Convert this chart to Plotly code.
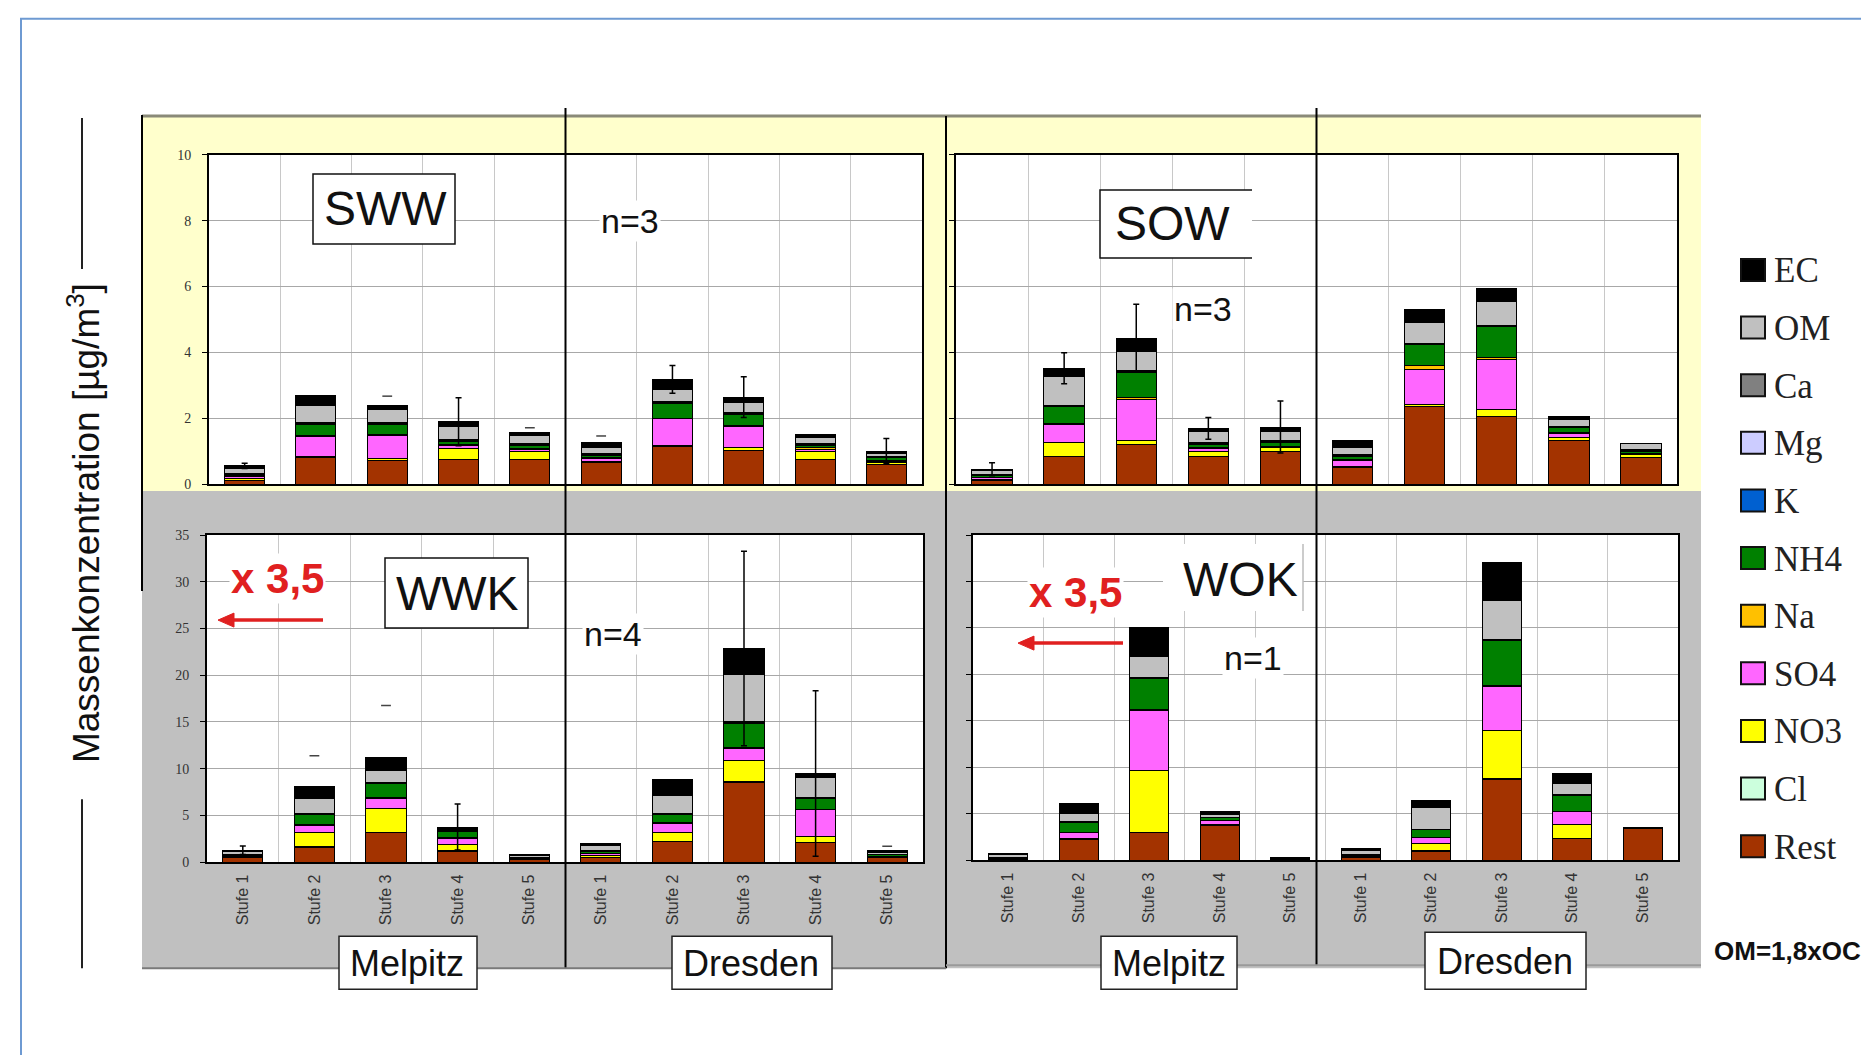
import plotly.graph_objects as go

W, H = 1861, 1055

# ---------------- data ----------------
components = ["Rest", "Cl", "NO3", "SO4", "Na", "NH4", "K", "Mg", "Ca", "OM", "EC"]
comp_colors = ["#a33300", "#ccffdd", "#ffff00", "#ff66ff", "#ffc000", "#008000",
               "#0060d0", "#ccccff", "#808080", "#c0c0c0", "#000000"]
stufen = ["Stufe 1", "Stufe 2", "Stufe 3", "Stufe 4", "Stufe 5"]
sites = ["Melpitz", "Dresden"]
panels = ["SWW", "SOW", "WWK", "WOK"]
n_labels = ["n=3", "n=3", "n=4", "n=1"]

# values: Melpitz Stufe 1-5, Dresden Stufe 1-5  [µg/m³]
SWW_Rest = [0.10, 0.82, 0.73, 0.75, 0.75, 0.65, 1.15, 1.02, 0.75, 0.60]
SWW_Cl = [0.02, 0.00, 0.00, 0.00, 0.00, 0.00, 0.00, 0.00, 0.00, 0.00]
SWW_NO3 = [0.05, 0.02, 0.05, 0.34, 0.25, 0.03, 0.02, 0.08, 0.25, 0.05]
SWW_SO4 = [0.05, 0.60, 0.69, 0.08, 0.05, 0.10, 0.81, 0.66, 0.05, 0.02]
SWW_Na = [0.02, 0.02, 0.02, 0.04, 0.03, 0.02, 0.02, 0.02, 0.05, 0.03]
SWW_NH4 = [0.03, 0.36, 0.33, 0.08, 0.10, 0.08, 0.45, 0.34, 0.07, 0.10]
SWW_K = [0.01, 0.02, 0.02, 0.02, 0.02, 0.02, 0.02, 0.02, 0.02, 0.02]
SWW_Mg = [0.01, 0.01, 0.01, 0.01, 0.01, 0.01, 0.01, 0.01, 0.01, 0.01]
SWW_Ca = [0.02, 0.02, 0.02, 0.02, 0.02, 0.02, 0.02, 0.02, 0.02, 0.02]
SWW_OM = [0.16, 0.52, 0.40, 0.42, 0.23, 0.17, 0.38, 0.30, 0.19, 0.07]
SWW_EC = [0.08, 0.31, 0.12, 0.13, 0.10, 0.16, 0.30, 0.17, 0.08, 0.08]
SWW_err = [0.08, None, None, 0.73, None, None, 0.42, 0.62, None, 0.38]
SWW_cap = [None, None, 0.28, None, 0.15, 0.20, None, None, None, None]

SOW_Rest = [0.10, 0.85, 1.21, 0.85, 0.98, 0.50, 2.37, 2.05, 1.31, 0.80]
SOW_Cl = [0.00, 0.00, 0.00, 0.00, 0.00, 0.00, 0.00, 0.00, 0.00, 0.00]
SOW_NO3 = [0.05, 0.41, 0.10, 0.13, 0.12, 0.02, 0.05, 0.22, 0.10, 0.10]
SOW_SO4 = [0.05, 0.55, 1.26, 0.10, 0.02, 0.20, 1.07, 1.50, 0.13, 0.02]
SOW_Na = [0.01, 0.02, 0.05, 0.02, 0.02, 0.02, 0.10, 0.07, 0.02, 0.02]
SOW_NH4 = [0.05, 0.52, 0.77, 0.10, 0.13, 0.10, 0.64, 0.94, 0.15, 0.06]
SOW_K = [0.01, 0.02, 0.02, 0.02, 0.02, 0.02, 0.02, 0.02, 0.02, 0.02]
SOW_Mg = [0.01, 0.01, 0.01, 0.01, 0.01, 0.01, 0.01, 0.01, 0.01, 0.01]
SOW_Ca = [0.02, 0.02, 0.02, 0.02, 0.02, 0.02, 0.02, 0.02, 0.02, 0.02]
SOW_OM = [0.11, 0.88, 0.58, 0.34, 0.27, 0.21, 0.62, 0.71, 0.21, 0.18]
SOW_EC = [0.04, 0.24, 0.41, 0.10, 0.14, 0.23, 0.39, 0.40, 0.08, 0.00]
SOW_err = [0.20, 0.47, 1.03, 0.33, 0.79, None, None, None, None, None]
SOW_cap = [None, None, None, None, None, None, None, None, None, None]

WWK_Rest = [0.45, 1.60, 3.14, 1.18, 0.30, 0.50, 2.18, 8.49, 2.07, 0.50]
WWK_Cl = [0.02, 0.05, 0.05, 0.03, 0.01, 0.03, 0.05, 0.10, 0.05, 0.02]
WWK_NO3 = [0.10, 1.50, 2.55, 0.68, 0.02, 0.20, 0.92, 2.25, 0.68, 0.03]
WWK_SO4 = [0.10, 0.80, 1.08, 0.66, 0.02, 0.20, 1.00, 1.37, 2.80, 0.03]
WWK_Na = [0.02, 0.09, 0.06, 0.05, 0.01, 0.03, 0.07, 0.05, 0.06, 0.02]
WWK_NH4 = [0.08, 1.02, 1.55, 0.66, 0.10, 0.20, 0.84, 2.60, 1.19, 0.18]
WWK_K = [0.02, 0.05, 0.05, 0.04, 0.01, 0.02, 0.05, 0.07, 0.05, 0.02]
WWK_Mg = [0.01, 0.02, 0.02, 0.01, 0.01, 0.01, 0.02, 0.03, 0.02, 0.01]
WWK_Ca = [0.02, 0.04, 0.04, 0.03, 0.02, 0.03, 0.04, 0.06, 0.04, 0.02]
WWK_OM = [0.35, 1.59, 1.25, 0.21, 0.20, 0.56, 2.00, 5.07, 2.10, 0.24]
WWK_EC = [0.10, 1.32, 1.42, 0.21, 0.15, 0.22, 1.68, 2.78, 0.43, 0.13]
WWK_err = [0.46, None, None, 2.46, None, None, None, 10.4, 8.85, None]
WWK_cap = [None, 3.3, 5.54, None, None, None, None, None, None, 0.5]

WOK_Rest = [0.10, 2.23, 2.94, 3.77, 0.10, 0.30, 0.97, 8.69, 2.30, 3.45]
WOK_Cl = [0.01, 0.02, 0.05, 0.02, 0.00, 0.01, 0.02, 0.05, 0.03, 0.00]
WOK_NO3 = [0.02, 0.05, 6.67, 0.05, 0.00, 0.05, 0.77, 5.23, 1.51, 0.00]
WOK_SO4 = [0.02, 0.66, 6.50, 0.40, 0.00, 0.10, 0.70, 4.78, 1.40, 0.00]
WOK_Na = [0.01, 0.03, 0.07, 0.02, 0.00, 0.01, 0.03, 0.06, 0.04, 0.00]
WOK_NH4 = [0.05, 1.12, 3.33, 0.33, 0.00, 0.10, 0.79, 4.79, 1.68, 0.00]
WOK_K = [0.01, 0.03, 0.07, 0.02, 0.00, 0.01, 0.03, 0.06, 0.04, 0.00]
WOK_Mg = [0.01, 0.01, 0.02, 0.01, 0.00, 0.01, 0.01, 0.02, 0.01, 0.00]
WOK_Ca = [0.02, 0.02, 0.05, 0.02, 0.00, 0.02, 0.02, 0.04, 0.02, 0.00]
WOK_OM = [0.35, 0.82, 2.27, 0.30, 0.10, 0.46, 2.29, 4.28, 1.19, 0.00]
WOK_EC = [0.08, 1.07, 3.05, 0.29, 0.12, 0.20, 0.80, 4.02, 1.07, 0.10]
WOK_err = [None] * 10
WOK_cap = [None] * 10

g = globals()
data = {p: [g[f"{p}_{c}"] for c in components] for p in panels}
errs = {p: g[f"{p}_err"] for p in panels}
caps = {p: g[f"{p}_cap"] for p in panels}

# ---------------- geometry ----------------
SANS = "Liberation Sans, Arial, sans-serif"
SERIF = "Liberation Serif, Times New Roman, serif"

# vertical calibration of the rendered page (observed: rendered = 0.9854*design + 6.15)
V_SCALE, V_OFF = 0.9854, 6.15


def px(x):
    return x / W


def py(y):
    yd = (y - V_OFF) / V_SCALE
    return 1 - yd / H


geo = {
    "SWW": dict(k="", x0=209, x1=922, y0=154, y1=483, ymax=10, dtick=2, ylab=True, xlab=False),
    "SOW": dict(k="2", x0=956, x1=1677, y0=154, y1=483, ymax=10, dtick=2, ylab=False, xlab=False),
    "WWK": dict(k="3", x0=207, x1=923, y0=534, y1=861, ymax=35, dtick=5, ylab=True, xlab=True),
    "WOK": dict(k="4", x0=973, x1=1678, y0=534, y1=859, ymax=35, dtick=5, ylab=False, xlab=True),
}

fig = go.Figure()
xpos = list(range(10))

for p in panels:
    gg = geo[p]
    xa, ya = "x" + gg["k"], "y" + gg["k"]
    for c, col, vals in zip(components, comp_colors, data[p]):
        fig.add_trace(go.Bar(
            x=xpos, y=vals, xaxis=xa, yaxis=ya, name=c, width=0.56,
            marker=dict(color=col, line=dict(color="black", width=1)),
            showlegend=False, hoverinfo="name+y"))
    totals = [sum(v[i] for v in data[p]) for i in range(10)]
    ex = [i for i in range(10) if errs[p][i] is not None]
    if ex:
        fig.add_trace(go.Scatter(
            x=ex, y=[totals[i] for i in ex], xaxis=xa, yaxis=ya, mode="markers",
            marker=dict(size=1, opacity=0), showlegend=False, hoverinfo="skip",
            error_y=dict(type="data", array=[errs[p][i] for i in ex], visible=True,
                         color="black", thickness=1.5, width=3)))
    cx = [i for i in range(10) if caps[p][i] is not None]
    if cx:
        fig.add_trace(go.Scatter(
            x=cx, y=[totals[i] + caps[p][i] for i in cx], xaxis=xa, yaxis=ya,
            mode="markers", showlegend=False, hoverinfo="skip",
            marker=dict(symbol="line-ew", size=7, line=dict(color="#444", width=1.5))))

layout = dict(
    width=W, height=H, margin=dict(l=0, r=0, t=0, b=0), autosize=False,
    paper_bgcolor="white", plot_bgcolor="rgba(0,0,0,0)", barmode="stack",
    font=dict(family=SANS, color="#111"), showlegend=False,
)

for p in panels:
    gg = geo[p]
    k = gg["k"]
    layout["xaxis" + k] = dict(
        domain=[px(gg["x0"]), px(gg["x1"])], range=[-0.5, 9.5], anchor="y" + k,
        tickmode="array", tickvals=xpos, ticktext=stufen * 2,
        showticklabels=gg["xlab"], tickangle=-90, ticklabelstandoff=4,
        tickfont=dict(size=16, family=SANS, color="#333"), ticks="",
        showgrid=False, zeroline=False,
        minor=dict(tickmode="array", tickvals=[i + 0.5 for i in range(9)],
                   showgrid=True, gridcolor="#c8c8c8", gridwidth=1, ticks=""),
        showline=True, mirror=True, linecolor="black", linewidth=2, fixedrange=True)
    layout["yaxis" + k] = dict(
        domain=[py(gg["y1"]), py(gg["y0"])], range=[0, gg["ymax"]], anchor="x" + k,
        dtick=gg["dtick"], tick0=0, showgrid=True, gridcolor="#a8a8a8", gridwidth=1,
        zeroline=False, ticks="outside", ticklen=5, tickcolor="black",
        showticklabels=gg["ylab"], ticklabelstandoff=8,
        tickfont=dict(size=14, family=SERIF, color="#333"),
        showline=True, mirror=True, linecolor="black", linewidth=2, fixedrange=True)

shapes = []


def rect(x0, y0, x1, y1, fill=None, line=None, lw=1.5, layer="below"):
    shapes.append(dict(type="rect", xref="paper", yref="paper",
                       x0=px(x0), x1=px(x1), y0=py(y1), y1=py(y0),
                       fillcolor=fill or "rgba(0,0,0,0)",
                       line=dict(color=line or "rgba(0,0,0,0)", width=lw if line else 0),
                       layer=layer))


def hline(x0, x1, y, color="black", lw=2, layer="above"):
    shapes.append(dict(type="line", xref="paper", yref="paper", x0=px(x0), x1=px(x1),
                       y0=py(y), y1=py(y), line=dict(color=color, width=lw), layer=layer))


def vline(x, y0, y1, color="black", lw=2, layer="above", xref="paper"):
    shapes.append(dict(type="line", xref=xref, yref="paper",
                       x0=px(x) if xref == "paper" else x, x1=px(x) if xref == "paper" else x,
                       y0=py(y0), y1=py(y1), line=dict(color=color, width=lw), layer=layer))


def arrow_left(tip_x, tail_x, y, color="#e02020"):
    hline(tip_x + 12, tail_x, y, color=color, lw=3.5)
    shapes.append(dict(type="path", xref="paper", yref="paper", layer="above",
                       path=f"M {px(tip_x)},{py(y)} L {px(tip_x + 16)},{py(y - 7)} "
                            f"L {px(tip_x + 16)},{py(y + 7)} Z",
                       fillcolor=color, line=dict(color=color, width=1)))


# frame + chart backgrounds
rect(21, 18, 1900, 1100, line="#6e9ad2", lw=2)
rect(142, 114, 1701, 490, fill="#ffffcc")
rect(142, 490, 1701, 967, fill="#c0c0c0")
hline(142, 1701, 115, color="#8a8a78", lw=3, layer="below")
for p in panels:
    gg = geo[p]
    rect(gg["x0"], gg["y0"], gg["x1"], gg["y1"], fill="white")

# dividers
vline(4.5, 107, 967, xref="x")
vline(4.5, 107, 964, xref="x2")
vline(946, 115, 967)
vline(142, 114, 590)
hline(142, 946, 967, color="#7a7a7a", lw=2)
hline(946, 1701, 964, color="#9a9a9a", lw=2)

# y-title decoration lines
vline(82, 117, 268, color="#222", lw=2)
vline(82, 798, 967, color="#222", lw=2)

# title boxes
rect(313, 173, 455, 243, fill="white", line="#111", lw=1.5, layer="above")
rect(1100, 189, 1252, 257, fill="white", layer="above")
shapes.append(dict(type="path", xref="paper", yref="paper", layer="above",
                   path=f"M {px(1252)},{py(189)} L {px(1100)},{py(189)} L {px(1100)},{py(257)} L {px(1252)},{py(257)}",
                   line=dict(color="#111", width=1.5)))
rect(385, 557, 528, 627, fill="white", line="#111", lw=1.5, layer="above")
rect(1163, 543, 1303, 610, fill="white", layer="above")
vline(1303, 543, 610, color="#bbbbbb", lw=1.5)

# site label boxes
site_boxes = [(339, 935, 477, 988), (672, 935, 832, 988), (1101, 935, 1237, 988), (1425, 931, 1586, 988)]
for b in site_boxes:
    rect(*b, fill="white", line="#222", lw=1.5, layer="above")

annotations = []


def text(x, y, t, size, color="#111", family=SANS, xanchor="center", bg=None, angle=0, bold=False):
    annotations.append(dict(
        x=px(x), y=py(y), xref="paper", yref="paper", text=f"<b>{t}</b>" if bold else t,
        showarrow=False, xanchor=xanchor, yanchor="middle", textangle=angle,
        font=dict(size=size, color=color, family=family),
        bgcolor=bg or "rgba(0,0,0,0)", borderpad=1))


title_pos = [(385, 208), (1172, 223), (457, 592), (1240, 578)]
n_pos = [(630, 220), (1203, 308), (613, 633), (1253, 657)]
for p, tp, npos, nl in zip(panels, title_pos, n_pos, n_labels):
    text(*tp, p, 48)
    text(*npos, nl, 34, bg="white")

site_centers = [(407, 962), (751, 962), (1169, 962), (1505, 960)]
for (sx, sy), sname in zip(site_centers, sites * 2):
    text(sx, sy, sname, 36)

# x 3,5 markers and arrows
for (tx, ty), (hx, tlx, hy) in [((277, 577), (218, 323, 619)), ((1075, 591), (1018, 1123, 642))]:
    text(tx, ty, "x 3,5", 42, color="#e02020", bold=True, bg="white")
    arrow_left(hx, tlx, hy)

# y-axis title
text(84, 522, "Massenkonzentration [µg/m<sup>3</sup>]", 37, angle=-90)

# legend (top entry = last stacked series)
leg_y0, leg_dy = 269, 57.6
for i, (c, col) in enumerate(zip(components[::-1], comp_colors[::-1])):
    yy = leg_y0 + i * leg_dy
    rect(1741, yy - 11, 1765, yy + 11, fill=col, line="#111", lw=2, layer="above")
    text(1772, yy + 1, c, 35, family=SERIF, xanchor="left", color="#222")

text(1712, 950, "OM=1,8xOC", 26, xanchor="left", bold=True)

layout["shapes"] = shapes
layout["annotations"] = annotations
fig.update_layout(**layout)

fig.write_html("out.html", include_plotlyjs=True, full_html=True,
               config={"displayModeBar": False, "responsive": False},
               post_script="document.documentElement.style.margin='0';document.body.style.margin='0';document.body.style.overflow='hidden';")
